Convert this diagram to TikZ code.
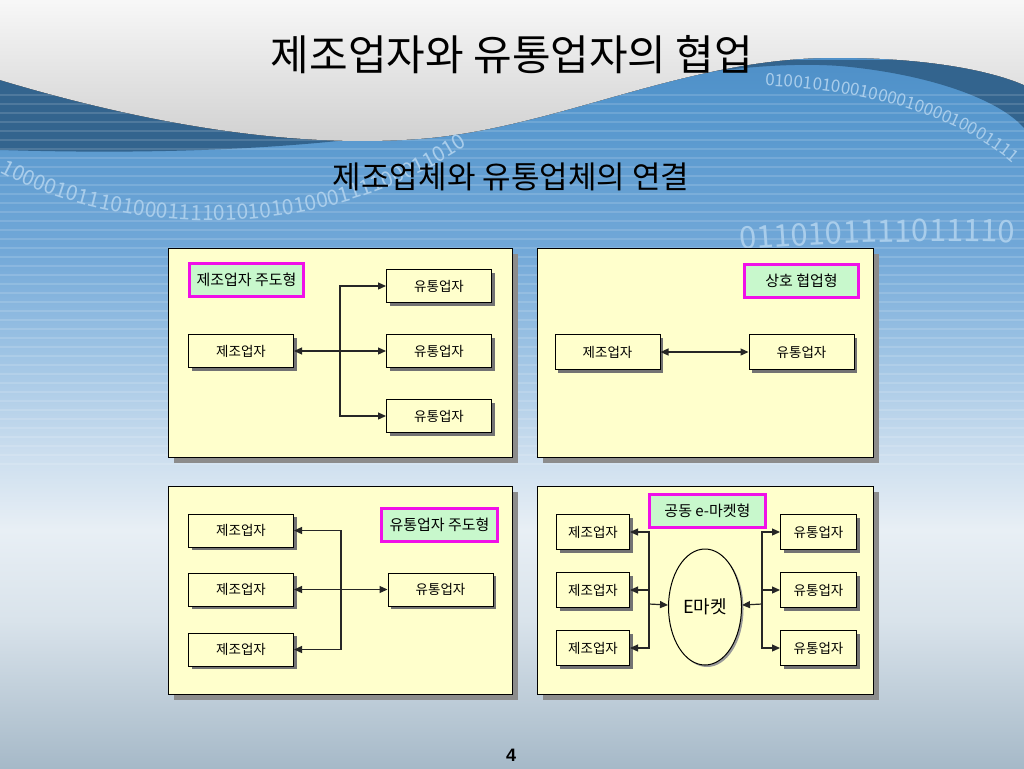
\documentclass[tikz,border=0pt]{standalone}
\usepackage{fontspec}
\setmainfont{Noto Sans CJK KR}
\newfontfamily\pagefont{Liberation Sans}
\usetikzlibrary{calc,positioning}
\usetikzlibrary{shapes,shadows,arrows.meta,decorations.text}
\usepackage{xcolor}
\definecolor{boxfill}{HTML}{FFFFCC}
\definecolor{labfill}{HTML}{C8F8CC}
\definecolor{labline}{HTML}{F010E8}
\definecolor{waveblue}{HTML}{33648E}
\definecolor{binary}{HTML}{A9CDEB}
\definecolor{bgA}{HTML}{4A88C2}
\definecolor{bgB}{HTML}{5395CC}
\definecolor{bgC}{HTML}{72A8D8}
\definecolor{bgD}{HTML}{9DC3E4}
\definecolor{bgE}{HTML}{CADDEE}
\definecolor{bgF}{HTML}{E8EFF5}
\definecolor{bgG}{HTML}{D9E3EB}
\definecolor{bgH}{HTML}{A6B9C8}
\pgfdeclareverticalshading{bgshade}{100bp}{color(0bp)=(bgH); color(25bp)=(bgH); color(34.6bp)=(bgG); color(40.5bp)=(bgF); color(45.7bp)=(bgE); color(52.2bp)=(bgD); color(58.7bp)=(bgC); color(68.5bp)=(bgB); color(75bp)=(bgA); color(100bp)=(bgA)}
\begin{document}
\begin{tikzpicture}[x=1pt, y=-1pt,
	panel/.style = {draw, fill=boxfill, line width=1pt, inner sep=0pt, drop shadow={shadow xshift=6pt, shadow yshift=-6pt, fill=black!45, opacity=1}},
	firm/.style = {draw, fill=boxfill, line width=1pt, minimum width=105pt, minimum height=33pt, inner sep=0pt, font=\fontsize{13.5}{15}\selectfont, drop shadow={shadow xshift=3pt, shadow yshift=-3pt, fill=black!55, opacity=1}},
	kind/.style = {draw=labline, fill=labfill, line width=3pt, minimum width=114pt, minimum height=33pt, inner sep=0pt, font=\fontsize{15}{17}\selectfont},
	conn/.style = {draw=black!85, line width=1.2pt},
	>={Triangle[length=8pt, width=7pt]}]
	\useasboundingbox (0,0) rectangle (1024,768);
	\fill[shading=bgshade] (0,0) rectangle (1024,768);
	\fill[waveblue] (0,60) -- (0,150) .. controls (200,156) and (380,146) .. (520,110) .. controls (640,78) and (760,60) .. (840,66) .. controls (930,74) and (1000,100) .. (1024,128) -- (1024,60) -- cycle;
	\foreach \y in {95,104,...,470}
		\draw[white, opacity=0.14, line width=1.2pt] (0,\y) -- (1024,\y);
	\fill[top color=white!97!black, bottom color=black!19] (0,0) -- (0,80) .. controls (150,125) and (300,150) .. (430,138) .. controls (560,125) and (680,62) .. (820,58) .. controls (920,56) and (990,70) .. (1024,85) -- (1024,0) -- cycle;
	\path[decorate, decoration={text along path, text={|\fontsize{21}{21}\selectfont\color{binary}|100001011101000111101010101000111100011010}}] (0,172) .. controls (130,242) and (360,250) .. (520,105);
	\path[decorate, decoration={text along path, text={|\fontsize{17}{17}\selectfont\color{binary}|0100101000100001000010001111}}] (765,86) .. controls (870,90) and (975,118) .. (1030,180);
	\path[decorate, decoration={text along path, text={|\fontsize{31}{31}\selectfont\color{binary}|0110101111011110}}] (740,250) .. controls (830,242) and (930,240) .. (1024,243);
	\node[font=\fontsize{42}{46}\selectfont] (title) at (512,55) {제조업자와 유통업자의 협업};
	\node[font=\fontsize{31}{34}\selectfont] (sub) at (511,177) {제조업체와 유통업체의 연결};
	\node[panel, minimum width=344pt, minimum height=209pt] (pA) at (340,352.5) {};
	\node[panel, minimum width=336pt, minimum height=209pt] (pB) at (705,352.5) {};
	\node[panel, minimum width=344pt, minimum height=208pt] (pC) at (340,590) {};
	\node[panel, minimum width=336pt, minimum height=208pt] (pD) at (705,590) {};
	\node[kind] (tA) at (246.5,280) {제조업자 주도형};
	\node[firm] (mA) at (241,351) {제조업자};
	\node[firm] (dA2) at (439,351) {유통업자};
	\node[firm] (dA1) [above=31pt of dA2] {유통업자};
	\node[firm] (dA3) [below=31pt of dA2] {유통업자};
	\coordinate (bA) at (340,351);
	\draw[conn,<->] (mA) -- (dA2);
	\draw[conn,->] (bA) |- (dA1);
	\draw[conn,->] (bA) |- (dA3);
	\node[kind] (tB) at (801.5,280.5) {상호 협업형};
	\node[firm, minimum height=35pt] (mB) at (607.5,352) {제조업자};
	\node[firm, minimum height=35pt] (dB) at (801.5,352) {유통업자};
	\draw[conn,<->] (mB) -- (dB);
	\node[kind, minimum width=116pt] (tC) at (439.5,525) {유통업자 주도형};
	\node[firm] (mC2) at (241,589.5) {제조업자};
	\node[firm] (mC1) [above=25pt of mC2] {제조업자};
	\node[firm] (mC3) [below=26pt of mC2] {제조업자};
	\node[firm] (dC) at (440.5,589.5) {유통업자};
	\coordinate (bC) at (341,589.5);
	\draw[conn,<->] (mC2) -- (dC);
	\draw[conn,->] (bC) |- (mC1);
	\draw[conn,->] (bC) |- (mC3);
	\node[kind, minimum width=116pt] (tD) at (707.5,511) {공동 e-마켓형};
	\node[firm, minimum width=73pt, minimum height=35pt] (mD2) at (593,590) {제조업자};
	\node[firm, minimum width=73pt, minimum height=35pt] (mD1) [above=22pt of mD2] {제조업자};
	\node[firm, minimum width=73pt, minimum height=35pt] (mD3) [below=22pt of mD2] {제조업자};
	\node[firm, minimum width=76pt, minimum height=35pt] (dD2) at (818.5,590) {유통업자};
	\node[firm, minimum width=76pt, minimum height=35pt] (dD1) [above=22pt of dD2] {유통업자};
	\node[firm, minimum width=76pt, minimum height=35pt] (dD3) [below=22pt of dD2] {유통업자};
	\node[draw, ellipse, fill=boxfill, line width=1pt, minimum width=73pt, minimum height=116pt, inner sep=0pt, font=\fontsize{18}{20}\selectfont, drop shadow={shadow xshift=2pt, shadow yshift=-2pt, fill=black!40, opacity=1}] (mkt) at (705,607) {E마켓};
	\coordinate (bL) at (649,604);
	\coordinate (bR) at (762,604);
	\draw[conn,->] (bL) -- (mkt);
	\draw[conn,->] (bR) -- (mkt);
	\draw[conn,->] (bL) |- (mD1);
	\draw[conn,->] (bL) |- (mD2);
	\draw[conn,->] (bL) |- (mD3);
	\draw[conn,->] (bR) |- (dD1);
	\draw[conn,->] (bR) |- (dD2);
	\draw[conn,->] (bR) |- (dD3);
	\node[font=\pagefont\bfseries\fontsize{18}{20}\selectfont] (page) at (511,755) {4};
\end{tikzpicture}
\end{document}
